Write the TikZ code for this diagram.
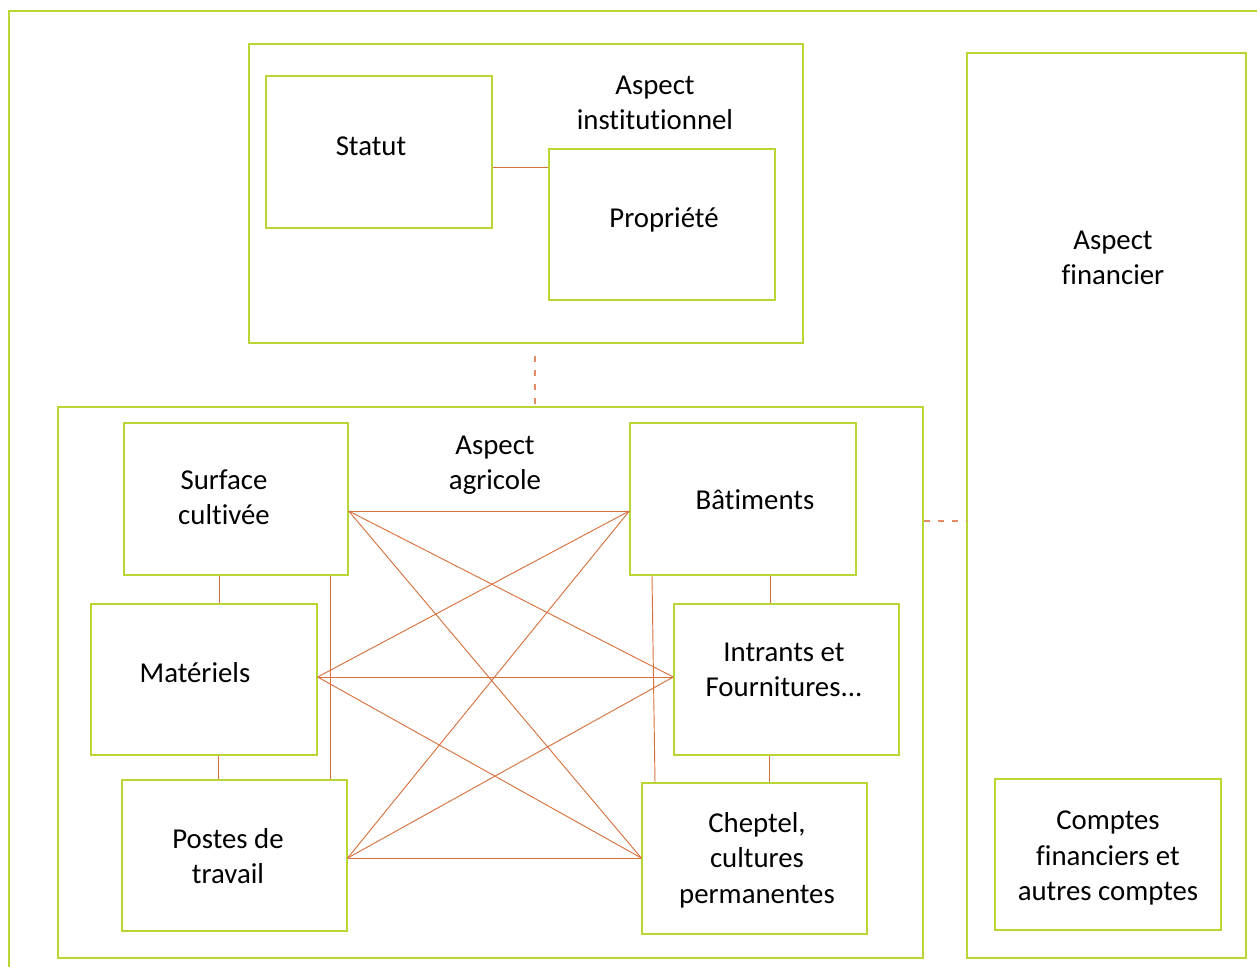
\documentclass[tikz,border=0pt]{standalone}
\usepackage{fontspec}
\setmainfont[Ligatures={NoCommon}]{Carlito}
\usetikzlibrary{fit}
\definecolor{lime}{RGB}{184,214,52}
\definecolor{rust}{RGB}{216,112,62}
\begin{document}
\begin{tikzpicture}[x=0.75pt,y=-0.75pt,
  box/.style={draw=lime,line width=1pt,inner sep=0pt,rectangle},
  txt/.style={align=center,font=\fontsize{21.6pt}{26.5pt}\selectfont,inner sep=0pt,text=black},
  link/.style={draw=rust,line width=0.7pt},
  dlink/.style={draw=rust!80,line width=0.8pt,dash pattern=on 5pt off 5.5pt}]
\useasboundingbox (0,0) rectangle (1257,967);
% outer frame
\draw[lime,line width=1pt] (9,970) -- (9,11) -- (1260,11);
% institutional
\node[box,fit={(249,44)(803,343)}] (inst) {};
\node[box,fit={(266,76)(492,228)}] (statut) {};
\node[box,fit={(549,149)(775,300)}] (prop) {};
\node[txt] (inst-t) at (655,103) {Aspect\\institutionnel};
\node[txt] (statut-t) at (371,146) {Statut};
\node[txt] (prop-t) at (664,220) {Propriété};
% agricultural
\node[box,fit={(58,407)(923,958)}] (agri) {};
\node[box,fit={(124,423)(348,575)}] (surf) {};
\node[box,fit={(630,423)(856,575)}] (bat) {};
\node[box,fit={(91,604)(317,755)}] (mat) {};
\node[box,fit={(674,604)(899,755)}] (intr) {};
\node[box,fit={(122,780)(347,931)}] (post) {};
\node[box,fit={(642,783)(867,934)}] (chep) {};
\node[txt] (agri-t) at (495,465) {Aspect\\agricole};
\node[txt] (surf-t) at (224,497) {Surface\\cultivée};
\node[txt] (bat-t) at (755,500) {Bâtiments};
\node[txt] (mat-t) at (195,673) {Matériels};
\node[txt] (intr-t) at (784,670) {Intrants et\\Fournitures...};
\node[txt] (post-t) at (228,856) {Postes de\\travail};
\node[txt] (chep-t) at (757,860) {Cheptel,\\cultures\\permanentes};
% financial
\node[box,fit={(967,53)(1246,958)}] (fin) {};
\node[box,fit={(995,779)(1221,930)}] (cpt) {};
\node[txt] (fin-t) at (1113,258) {Aspect\\financier};
\node[txt] (cpt-t) at (1108,858) {Comptes\\financiers et\\autres comptes};
% anchor coordinates
\coordinate (sE) at (surf.north east |- 0,511);
\coordinate (bW) at (bat.north west |- 0,511);
\coordinate (mE) at (mat.north east |- 0,677);
\coordinate (iW) at (intr.north west |- 0,677);
\coordinate (pE) at (post.north east |- 0,858);
\coordinate (cW) at (chep.north west |- 0,858);
% connectors
\draw[link] (statut.east |- 0,167) -- (prop.west |- 0,167);
\draw[dlink] ([yshift=-12*0.75pt]inst.south -| 535,0) -- (agri.north -| 535,0);
\draw[dlink] (agri.east |- 0,521) -- (fin.west |- 0,521);
\draw[link] (surf.south -| 219,0) -- (mat.north -| 219,0);
\draw[link] (mat.south -| 218,0) -- (post.north -| 218,0);
\draw[link] (surf.south -| 330,0) -- (post.north -| 330,0);
\draw[link] (bat.south -| 770,0) -- (intr.north -| 770,0);
\draw[link] (intr.south -| 769,0) -- (chep.north -| 769,0);
\draw[link] (bat.south -| 652,0) -- (chep.north -| 655,0);
\draw[link] (sE) -- (bW);
\draw[link] (sE) -- (iW);
\draw[link] (sE) -- (cW);
\draw[link] (bW) -- (mE);
\draw[link] (bW) -- (pE);
\draw[link] (mE) -- (iW);
\draw[link] (mE) -- (cW);
\draw[link] (pE) -- (iW);
\draw[link] (pE) -- (cW);
\end{tikzpicture}
\end{document}
